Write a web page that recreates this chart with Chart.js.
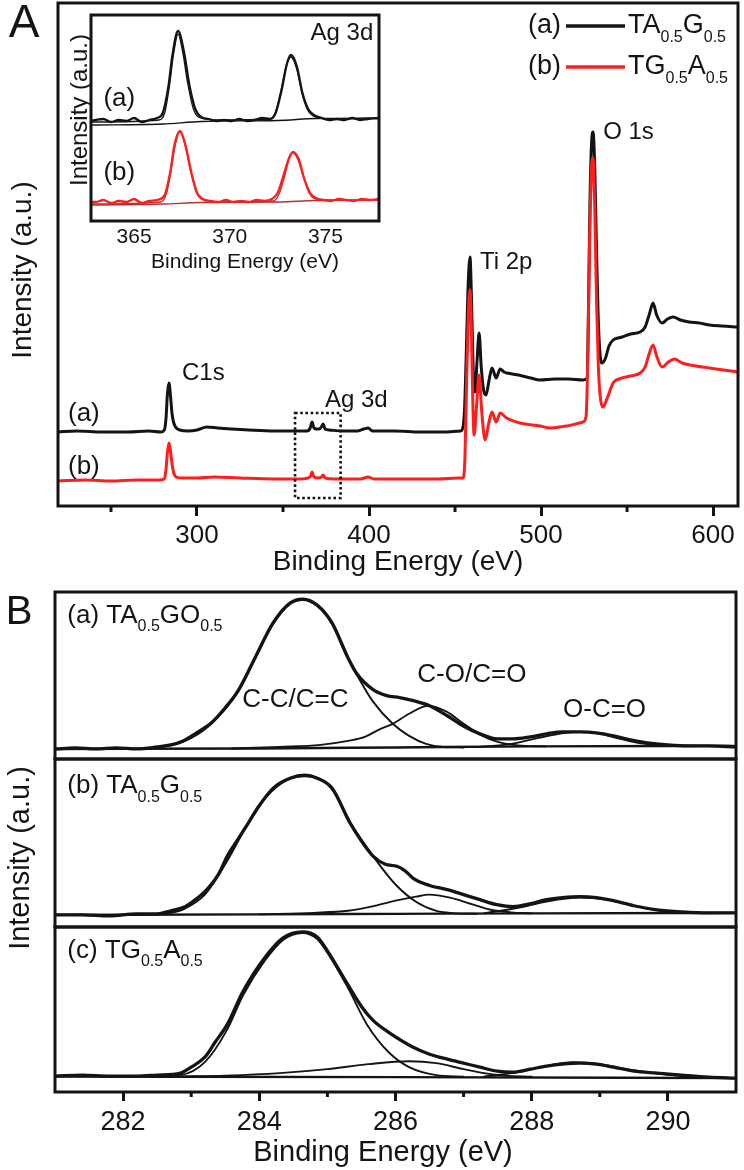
<!DOCTYPE html>
<html>
<head>
<meta charset="utf-8">
<script src="https://cdn.jsdelivr.net/npm/chart.js@4.4.1/dist/chart.umd.min.js"></script>
<style>
  html, body { margin: 0; padding: 0; background: #fff; }
  #figura { position: relative; width: 744px; height: 1170px; overflow: hidden; }
  #figura canvas { position: absolute; }
</style>
</head>
<body>
<div id="figura">
  <canvas id="graficaSurvey" width="744" height="600" style="left:0;top:0"></canvas>
  <canvas id="graficaAg" width="330" height="265" style="left:60px;top:10px"></canvas>
  <canvas id="graficaC1sA" width="744" height="180" style="left:0;top:585px"></canvas>
  <canvas id="graficaC1sB" width="744" height="180" style="left:0;top:752px"></canvas>
  <canvas id="graficaC1sC" width="744" height="585" style="left:0;top:585px"></canvas>
</div>
<script>
// ---- datos: [energia de enlace (eV), intensidad (u.a.)] ----
const ticksSurvey = [300, 400, 500, 600];
const menoresSurvey = [250, 350, 450, 550];
const ticksAg = [365, 370, 375];
const ticksC1s = [282, 284, 286, 288, 290];
const menoresC1s = [283, 285, 287, 289];

// espectro general (a) TA0.5G0.5
const surveyTAG = [
    [219.2, 74], [230, 75], [245, 74], [260, 74], [272, 75], [279, 74], [281, 76], [282, 88], [282.8, 112], [283.7, 123],
    [284.6, 110], [285.5, 92], [286.5, 83], [288, 78], [290, 76], [295, 75], [300, 76], [305.7, 79], [312, 78], [320, 77],
    [330, 76], [345, 75], [358, 75], [364, 75], [365.8, 78], [366.9, 84], [368, 78], [369.5, 77], [371, 77], [372.3, 79],
    [373.3, 82], [374.5, 77], [377, 76], [385, 75], [393, 75], [397, 77], [399.5, 78], [402, 75], [415, 75], [430, 74],
    [445, 74], [453, 75], [454.1, 76], [455.5, 95], [456.5, 150], [457.5, 215], [458.7, 249], [459.6, 205], [460.5, 140], [461.6, 114],
    [462.8, 145], [464.0, 173], [465.2, 140], [466.6, 116], [468.0, 111], [469.8, 126], [471.5, 138], [473.9, 128], [476.2, 137], [478.5, 134],
    [480.2, 133], [487, 131], [494, 128], [499.4, 126], [508, 127], [516, 127], [524.4, 126], [526.8, 128], [527.6, 200], [528.4, 300],
    [529.3, 360], [530.2, 374], [531.2, 340], [532.2, 260], [533.2, 190], [534.4, 150], [535.5, 143], [537.5, 148], [539.5, 160], [541.9, 166],
    [547.1, 169], [552, 172], [557.6, 174], [560.5, 179], [563, 192], [565.1, 203], [567.2, 191], [570.4, 183], [573.5, 187], [576.8, 189],
    [581, 186], [586, 184], [592, 183], [598, 181], [605, 180], [614.5, 179]
];
// espectro general (b) TG0.5A0.5
const surveyTGA = [
    [219.2, 25], [235, 26], [250, 25], [265, 26], [278, 26], [281, 27], [282, 37], [282.8, 53], [283.7, 63], [284.6, 55],
    [285.5, 42], [286.5, 33], [288, 29], [292, 28], [300, 28], [310, 29], [325, 28], [345, 27], [360, 27], [365.8, 29],
    [366.9, 34], [368, 29], [370.5, 28], [372.3, 29], [373.3, 31], [374.5, 28], [380, 27], [395, 27], [399.5, 29], [403, 27],
    [420, 27], [440, 27], [452, 28], [454.6, 28], [455.8, 50], [456.8, 130], [457.8, 195], [458.7, 216], [459.6, 170], [460.4, 100],
    [461.1, 71], [462.5, 100], [464.0, 131], [465.5, 95], [467.5, 66], [469.5, 82], [471.5, 94], [473.9, 84], [476.2, 93], [480, 88],
    [487.8, 83], [499.4, 80], [505.2, 78], [515, 80], [524.4, 84], [526.2, 90], [527.2, 150], [528.2, 260], [529.3, 335], [530.2, 348],
    [531.2, 300], [532.2, 210], [533.3, 140], [534.5, 108], [536.0, 99], [538.5, 108], [541.9, 123], [547.1, 128], [552, 130], [557.6, 133],
    [560.5, 139], [563, 153], [565.1, 161], [567.2, 150], [570.4, 139], [574, 144], [577.5, 147], [582, 143], [590, 140], [598, 138],
    [606, 136], [614.5, 134]
];

// recuadro Ag 3d
const agTAG = [
    [362.75, 100], [363.0, 101], [363.4, 102], [363.8, 99], [364.2, 101], [364.6, 100], [365.0, 103], [365.4, 99], [365.8, 101], [366.2, 103],
    [366.5, 108], [366.8, 135], [367.0, 165], [367.3, 190], [367.6, 170], [367.9, 135], [368.2, 112], [368.5, 104], [368.9, 102], [369.3, 100],
    [369.7, 101], [370.1, 100], [370.5, 102], [370.9, 100], [371.3, 101], [371.7, 103], [372.1, 102], [372.4, 108], [372.7, 130], [373.0, 158],
    [373.2, 166], [373.5, 155], [373.8, 128], [374.1, 112], [374.4, 106], [374.8, 103], [375.2, 101], [375.6, 102], [376.0, 101], [376.4, 103],
    [376.8, 101], [377.2, 102], [377.8, 103]
];
const agTAGajuste = [
    [362.75, 99], [366.3, 101], [366.6, 108], [366.85, 135], [367.05, 165], [367.3, 187], [367.55, 168], [367.8, 138], [368.1, 112], [368.5, 103],
    [369.5, 101], [372.0, 102], [372.35, 107], [372.65, 128], [372.95, 155], [373.2, 164], [373.5, 152], [373.8, 126], [374.1, 110], [374.5, 104],
    [375.5, 102], [377.8, 103]
];
const agTAGfondo = [[362.75, 96], [366.5, 97], [368.5, 99.5], [372.5, 100.5], [374.5, 102.5], [377.8, 103]];
const agTGA = [
    [362.75, 19], [363.0, 19], [363.4, 21], [363.8, 18], [364.2, 20], [364.6, 19], [365.0, 22], [365.4, 18], [365.8, 20], [366.2, 21],
    [366.6, 26], [366.9, 50], [367.1, 75], [367.4, 90], [367.7, 75], [368.0, 48], [368.3, 28], [368.6, 22], [369.0, 20], [369.4, 19],
    [369.8, 21], [370.2, 19], [370.6, 20], [371.0, 19], [371.4, 21], [371.8, 20], [372.2, 22], [372.5, 28], [372.8, 45], [373.1, 63],
    [373.3, 69], [373.6, 62], [373.9, 42], [374.2, 28], [374.5, 23], [374.9, 21], [375.3, 20], [375.7, 22], [376.1, 21], [376.5, 20],
    [376.9, 22], [377.3, 21], [377.8, 22]
];
const agTGAajuste = [
    [362.75, 17], [366.4, 19], [366.7, 28], [366.95, 52], [367.15, 76], [367.4, 89], [367.65, 77], [367.95, 50], [368.25, 29], [368.6, 21],
    [369.5, 19], [372.3, 20], [372.6, 28], [372.9, 47], [373.1, 62], [373.3, 68], [373.55, 62], [373.85, 44], [374.15, 28], [374.5, 22],
    [375.5, 21], [377.8, 21]
];
const agTGAfondo = [[362.75, 16], [366.5, 17], [368.5, 18.5], [372.5, 19], [374.5, 20.5], [377.8, 21]];

// C 1s (a) TA0.5GO0.5
const c1sTAGO = [
    [281.0, 10], [281.3, 11], [281.6, 10], [281.9, 11], [282.2, 10], [282.5, 12], [282.7, 14], [282.88, 18], [283.08, 26], [283.28, 35],
    [283.5, 51], [283.69, 68], [283.94, 101], [284.2, 135], [284.45, 155], [284.64, 159], [284.85, 153], [285.07, 135], [285.3, 101], [285.43, 85],
    [285.67, 69], [285.87, 63], [286.06, 61], [286.26, 58], [286.5, 53], [286.76, 43], [286.99, 33], [287.24, 25], [287.49, 20], [287.73, 20],
    [287.98, 22], [288.22, 25], [288.45, 27], [288.71, 27], [288.95, 26], [289.2, 23], [289.45, 19], [289.7, 16], [290.0, 14], [290.3, 13],
    [290.6, 13], [291.0, 12]
];
const c1sTAGOfondo = [[281, 10], [284, 10.5], [286, 11.5], [288, 12.5], [291, 13]];
const c1sTAGOcc = [
    [282.4, 10.5], [282.88, 17], [283.28, 34], [283.69, 67], [283.94, 100], [284.2, 134], [284.45, 154], [284.64, 158], [284.85, 152], [285.07, 134],
    [285.3, 100], [285.43, 84], [285.67, 57], [285.96, 35], [286.2, 23], [286.45, 15], [286.7, 12], [287.0, 11.5]
];
const c1sTAGOco = [
    [283.6, 10.5], [284.3, 12], [284.9, 14], [285.3, 18], [285.55, 22], [285.75, 29], [285.96, 35], [286.2, 45], [286.48, 53], [286.75, 47],
    [287.0, 35], [287.25, 24], [287.5, 17], [287.8, 13.5], [288.2, 12.5]
];
const c1sTAGOoco = [[287.2, 12], [287.7, 15], [288.1, 21], [288.5, 26], [288.75, 27], [289.0, 25], [289.3, 20], [289.6, 15.5], [290.0, 13.5], [290.4, 13]];

// C 1s (b) TA0.5G0.5
const c1sTAG = [
    [281.0, 12], [281.4, 12], [281.8, 11], [282.2, 13], [282.5, 13], [282.7, 16], [282.91, 20], [283.08, 28], [283.23, 37], [283.4, 52],
    [283.53, 70], [283.7, 88], [283.84, 103], [284.0, 120], [284.2, 137], [284.45, 147], [284.67, 150], [284.85, 147], [285.07, 137], [285.33, 103],
    [285.5, 85], [285.67, 70], [285.85, 62], [286.02, 60], [286.15, 55], [286.26, 48], [286.5, 41], [286.76, 37], [287.0, 32], [287.24, 27],
    [287.49, 22], [287.73, 20], [287.98, 23], [288.22, 27], [288.45, 29], [288.71, 30], [288.95, 29], [289.2, 26], [289.5, 21], [289.84, 17],
    [290.2, 15], [290.6, 14], [291.0, 14]
];
const c1sTAGfondo = [[281, 12], [284, 12.5], [286, 13], [288, 13.5], [291, 14]];
const c1sTAGcc = [
    [282.4, 12.5], [282.7, 14], [282.9, 18], [283.2, 32], [283.5, 62], [283.8, 98], [284.1, 128], [284.4, 145], [284.67, 149], [284.9, 146],
    [285.1, 133], [285.33, 104], [285.67, 70], [286.0, 42], [286.3, 25], [286.6, 16], [286.9, 13.5], [287.2, 13]
];
const c1sTAGco = [[284.0, 12.5], [284.8, 14], [285.3, 16], [285.7, 21], [286.0, 26], [286.3, 30], [286.5, 32], [286.8, 29], [287.1, 23], [287.4, 17], [287.7, 14.5], [288.0, 13.5]];
const c1sTAGoco = [[287.3, 13.5], [287.8, 19], [288.2, 25], [288.7, 29], [289.1, 27], [289.5, 21], [289.9, 16], [290.3, 14.5]];

// C 1s (c) TG0.5A0.5
const c1sTGA = [
    [281.0, 16], [281.4, 17], [281.8, 16], [282.2, 16], [282.5, 17], [282.84, 19], [283.0, 25], [283.2, 35], [283.35, 50], [283.53, 68],
    [283.76, 101], [284.08, 135], [284.35, 155], [284.63, 161], [284.85, 156], [285.0, 142], [285.3, 108], [285.5, 86], [285.67, 72], [285.9, 60],
    [286.26, 45], [286.5, 38], [286.76, 33], [287.0, 29], [287.24, 25], [287.49, 21], [287.73, 20], [287.98, 23], [288.22, 26], [288.45, 28],
    [288.71, 29], [288.95, 28], [289.2, 25], [289.5, 21], [289.84, 19], [290.2, 17], [290.6, 15], [291.0, 14]
];
const c1sTGAfondo = [[281, 15.5], [286, 15], [291, 14]];
const c1sTGAcc = [
    [282.5, 16], [282.84, 17], [283.2, 30], [283.53, 63], [283.76, 97], [284.08, 132], [284.35, 153], [284.63, 160], [284.85, 154], [285.0, 140],
    [285.3, 105], [285.58, 68], [285.9, 40], [286.2, 25], [286.6, 17], [287.0, 15.5]
];
const c1sTGAco = [[282.8, 15.5], [283.5, 16.5], [284.3, 19], [285.0, 23], [285.6, 28], [286.2, 31], [286.6, 29], [287.0, 23], [287.3, 19], [287.6, 16.5], [288.0, 15.5]];
const c1sTGAoco = [[287.3, 15.5], [287.8, 20], [288.2, 26], [288.6, 30], [289.0, 28], [289.4, 23], [289.8, 19], [290.2, 16], [290.6, 15]];

// ---- estilo ----
const fuente = "'Liberation Sans', Arial, Helvetica, sans-serif";
const negro = "#141414";
const rojo = "#ff1e1e";
const rojoAjuste = "#b83030";

function serie(lista, color, ancho) {
    return {
        data: lista.map(([x, y]) => ({ x, y })),
        borderColor: color,
        borderWidth: ancho,
        pointRadius: 0,
        fill: false,
        cubicInterpolationMode: "monotone",
        borderJoinStyle: "round",
        borderCapStyle: "round"
    };
}

function ejeX(min, max, marcas, opciones = {}) {
    const { alto = 0, tam = 26, largo = 10, pad = 4, mostrar = true } = opciones;
    return {
        type: "linear", min, max, display: mostrar,
        afterBuildTicks: eje => { eje.ticks = marcas.map(value => ({ value })); },
        afterFit: eje => { eje.height = alto; },
        grid: { drawOnChartArea: false, drawTicks: largo > 0, tickLength: largo, tickWidth: 3, tickColor: negro },
        border: { display: false },
        ticks: { color: negro, padding: pad, maxRotation: 0, autoSkip: false, font: { family: fuente, size: tam } }
    };
}

function textoRico(ctx, partes, x, y, tam, alinear) {
    const sub = Math.round(tam * 0.6);
    let ancho = 0;
    partes.forEach(([t, esSub]) => {
        ctx.font = `${esSub ? sub : tam}px ${fuente}`;
        ancho += ctx.measureText(t).width;
    });
    let cx = alinear === "right" ? x - ancho : alinear === "center" ? x - ancho / 2 : x;
    ctx.textAlign = "left";
    ctx.textBaseline = "middle";
    partes.forEach(([t, esSub]) => {
        ctx.font = `${esSub ? sub : tam}px ${fuente}`;
        ctx.fillText(t, cx, esSub ? y + tam * 0.42 : y);
        cx += ctx.measureText(t).width;
    });
    return cx;
}

function pluginMarco({ grosor = 3, menores = [], largoMenor = 6, fondo = false, etiquetas = [], extra = null }) {
    return {
        id: "marco",
        beforeDatasetsDraw(chart) {
            if (!fondo) return;
            const a = chart.chartArea;
            chart.ctx.save();
            chart.ctx.fillStyle = "#fff";
            chart.ctx.fillRect(a.left, a.top, a.right - a.left, a.bottom - a.top);
            chart.ctx.restore();
        },
        afterDraw(chart) {
            const { ctx, chartArea: a, scales } = chart;
            ctx.save();
            ctx.strokeStyle = negro;
            ctx.lineWidth = grosor;
            ctx.strokeRect(a.left, a.top, a.right - a.left, a.bottom - a.top);
            menores.forEach(v => {
                const px = scales.x.getPixelForValue(v);
                ctx.beginPath();
                ctx.moveTo(px, a.bottom);
                ctx.lineTo(px, a.bottom + largoMenor);
                ctx.stroke();
            });
            if (extra) extra(chart);
            ctx.fillStyle = negro;
            etiquetas.forEach(e => {
                const x = e.ex !== undefined ? scales.x.getPixelForValue(e.ex) : e.x;
                const y = e.ey !== undefined ? scales.y.getPixelForValue(e.ey) : e.y;
                ctx.save();
                if (e.rotar) {
                    ctx.translate(x, y);
                    ctx.rotate(-Math.PI / 2);
                    textoRico(ctx, e.partes, 0, 0, e.tam, "center");
                } else {
                    textoRico(ctx, e.partes, x, y, e.tam, e.alinear || "left");
                }
                ctx.restore();
            });
            ctx.restore();
        }
    };
}

function opcionesBase(ejeXcfg, maxY, padding) {
    return {
        responsive: false,
        animation: false,
        events: [],
        layout: { padding, autoPadding: false },
        plugins: { legend: { display: false }, tooltip: { enabled: false } },
        scales: { x: ejeXcfg, y: { type: "linear", min: 0, max: maxY, display: false } }
    };
}

// ---- panel A: espectro general ----
const cajaAg = { x1: 357, x2: 383.5, y1: 8, y2: 93 };

function dibujarLeyenda(chart) {
    const { ctx, scales } = chart;
    const filas = [
        { rotulo: "(a)", color: negro, partes: [["TA"], ["0.5", 1], ["G"], ["0.5", 1]], y: 26 },
        { rotulo: "(b)", color: rojo, partes: [["TG"], ["0.5", 1], ["A"], ["0.5", 1]], y: 67 }
    ];
    ctx.fillStyle = negro;
    filas.forEach(f => {
        textoRico(ctx, [[f.rotulo]], 528, f.y, 27, "left");
        ctx.strokeStyle = f.color;
        ctx.lineWidth = 3.5;
        ctx.beginPath();
        ctx.moveTo(566, f.y);
        ctx.lineTo(625, f.y);
        ctx.stroke();
        ctx.fillStyle = negro;
        textoRico(ctx, f.partes, 628, f.y, 27, "left");
    });
    // recuadro punteado Ag 3d
    const x1 = scales.x.getPixelForValue(cajaAg.x1), x2 = scales.x.getPixelForValue(cajaAg.x2);
    const y1 = scales.y.getPixelForValue(cajaAg.y1), y2 = scales.y.getPixelForValue(cajaAg.y2);
    ctx.strokeStyle = negro;
    ctx.lineWidth = 2.6;
    ctx.setLineDash([2.6, 2.6]);
    ctx.strokeRect(x1, y2, x2 - x1, y1 - y2);
    ctx.setLineDash([]);
}

new Chart(document.getElementById("graficaSurvey"), {
    type: "line",
    data: { datasets: [serie(surveyTGA, rojo, 3), serie(surveyTAG, negro, 3)] },
    options: opcionesBase(ejeX(219.2, 614.5, ticksSurvey, { alto: 94, tam: 26, largo: 10, pad: 4 }), 503, { left: 58, top: 3, right: 6, bottom: 0 }),
    plugins: [pluginMarco({
        menores: menoresSurvey, largoMenor: 6, extra: dibujarLeyenda,
        etiquetas: [
            { partes: [["A"]], x: 24, y: 24, tam: 46, alinear: "center" },
            { partes: [["Intensity (a.u.)"]], x: 23, y: 270, tam: 28, rotar: true },
            { partes: [["Binding Energy (eV)"]], x: 398, y: 562, tam: 28, alinear: "center" },
            { partes: [["C1s"]], ex: 291.3, ey: 133, tam: 24 },
            { partes: [["Ag 3d"]], ex: 374.4, ey: 106, tam: 24 },
            { partes: [["(a)"]], ex: 225, ey: 92, tam: 26 },
            { partes: [["(b)"]], ex: 225, ey: 39, tam: 26 },
            { partes: [["Ti 2p"]], ex: 464.5, ey: 244, tam: 24 },
            { partes: [["O 1s"]], ex: 536.1, ey: 374, tam: 24 }
        ]
    })]
});

// ---- recuadro Ag 3d ----
new Chart(document.getElementById("graficaAg"), {
    type: "line",
    data: {
        datasets: [
            serie(agTAG, negro, 2.3), serie(agTAGajuste, negro, 1.3), serie(agTAGfondo, negro, 1.3),
            serie(agTGA, rojo, 2.3), serie(agTGAajuste, rojoAjuste, 1.3), serie(agTGAfondo, rojoAjuste, 1.3)
        ]
    },
    options: opcionesBase(ejeX(362.75, 377.8, ticksAg, { alto: 54, tam: 21, largo: 0, pad: 4 }), 206, { left: 31, top: 5, right: 11, bottom: 0 }),
    plugins: [pluginMarco({
        grosor: 3, fondo: true,
        etiquetas: [
            { partes: [["Intensity (a.u.)"]], x: 20, y: 100, tam: 24, rotar: true },
            { partes: [["Binding Energy (eV)"]], x: 185, y: 252, tam: 21, alinear: "center" },
            { partes: [["Ag 3d"]], ex: 377.5, ey: 188, tam: 24, alinear: "right" },
            { partes: [["(a)"]], ex: 363.4, ey: 122, tam: 26 },
            { partes: [["(b)"]], ex: 363.4, ey: 48, tam: 26 }
        ]
    })]
});

// ---- panel B: C 1s ----
function datosC1s(datos, fondo, cc, co, oco) {
    return [serie(datos, negro, 3.3), serie(cc, negro, 1.9), serie(co, negro, 1.9), serie(oco, negro, 1.9), serie(fondo, negro, 2.4)];
}

new Chart(document.getElementById("graficaC1sA"), {
    type: "line",
    data: { datasets: datosC1s(c1sTAGO, c1sTAGOfondo, c1sTAGOcc, c1sTAGOco, c1sTAGOoco) },
    options: opcionesBase(ejeX(281, 291, ticksC1s, { mostrar: false }), 166, { left: 55, top: 7, right: 8, bottom: 6 }),
    plugins: [pluginMarco({
        etiquetas: [
            { partes: [["(a) TA"], ["0.5", 1], ["GO"], ["0.5", 1]], ex: 281.18, ey: 142, tam: 26 },
            { partes: [["C-C/C=C"]], ex: 283.75, ey: 59, tam: 26 },
            { partes: [["C-O/C=O"]], ex: 286.32, ey: 84, tam: 26 },
            { partes: [["O-C=O"]], ex: 288.46, ey: 49, tam: 26 }
        ]
    })]
});

new Chart(document.getElementById("graficaC1sB"), {
    type: "line",
    data: { datasets: datosC1s(c1sTAG, c1sTAGfondo, c1sTAGcc, c1sTAGco, c1sTAGoco) },
    options: opcionesBase(ejeX(281, 291, ticksC1s, { mostrar: false }), 166, { left: 55, top: 7, right: 8, bottom: 5 }),
    plugins: [pluginMarco({
        etiquetas: [
            { partes: [["(b) TA"], ["0.5", 1], ["G"], ["0.5", 1]], ex: 281.18, ey: 139, tam: 26 }
        ]
    })]
});

new Chart(document.getElementById("graficaC1sC"), {
    type: "line",
    data: { datasets: datosC1s(c1sTGA, c1sTGAfondo, c1sTGAcc, c1sTGAco, c1sTGAoco) },
    options: opcionesBase(ejeX(281, 291, ticksC1s, { alto: 78, tam: 27, largo: 9, pad: 5 }), 166, { left: 55, top: 342, right: 8, bottom: 0 }),
    plugins: [pluginMarco({
        menores: menoresC1s, largoMenor: 5,
        etiquetas: [
            { partes: [["B"]], x: 19, y: 28, tam: 40, alinear: "center" },
            { partes: [["Intensity (a.u.)"]], x: 21, y: 273, tam: 29, rotar: true },
            { partes: [["Binding Energy (eV)"]], x: 383, y: 568, tam: 29, alinear: "center" },
            { partes: [["(c) TG"], ["0.5", 1], ["A"], ["0.5", 1]], ex: 281.18, ey: 142, tam: 26 }
        ]
    })]
});
</script>
</body>
</html>
